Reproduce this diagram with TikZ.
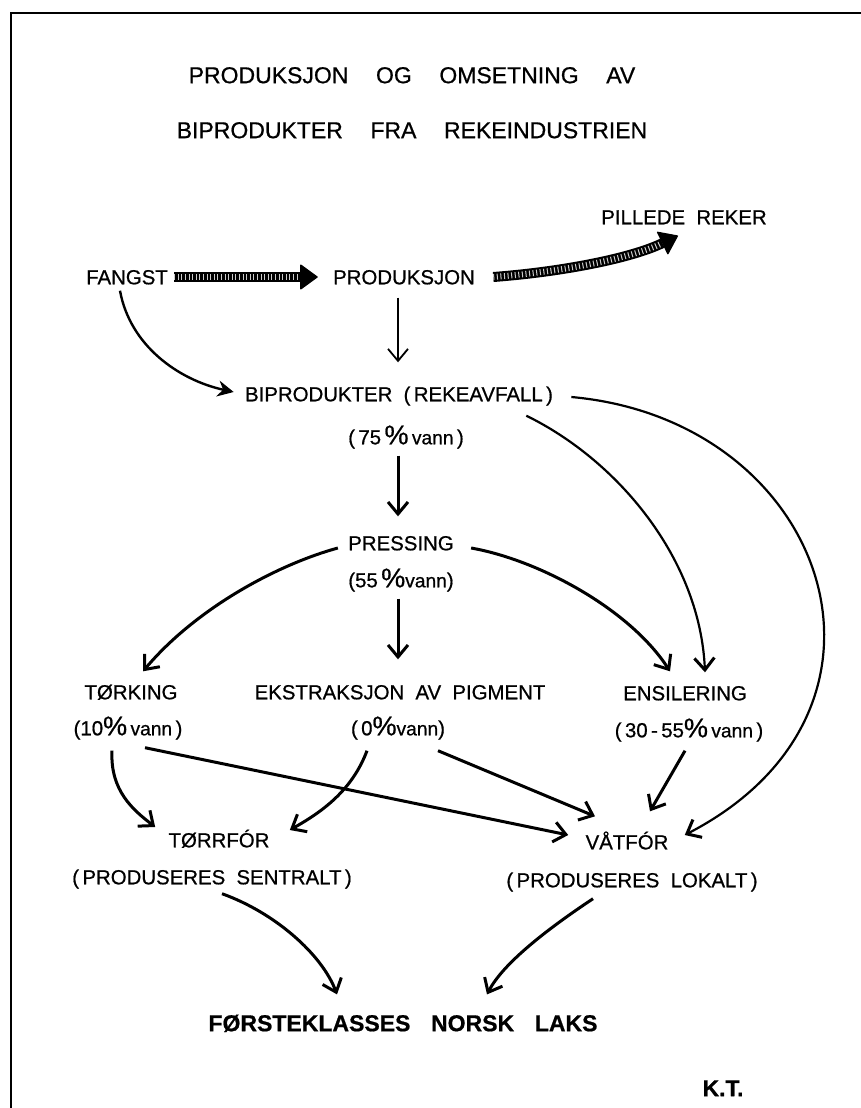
\documentclass[tikz,border=0pt]{standalone}
\usepackage{fontspec}
\setmainfont[FakeBold=0.7]{Liberation Sans}
\usetikzlibrary{arrows.meta,calc}
\newcommand{\pct}{{\fontsize{13.5}{13}\selectfont\%}}
\newcommand{\vann}{{\fontsize{9.6}{10}\selectfont vann}}
\newcommand{\wg}{\hspace{0.55em}}
\newcommand{\tg}{\hspace{1.2em}}
\begin{document}
\begin{tikzpicture}[x=0.5pt,y=-0.5pt,
  lbl/.style={inner sep=0pt, text height=7.3pt, text depth=0pt, font=\fontsize{10.2}{12}\selectfont},
  ttl/.style={inner sep=0pt, text height=8.2pt, text depth=0pt, font=\fontsize{11.5}{13}\selectfont},
  big/.style={inner sep=0pt, text height=8.2pt, text depth=0pt, font=\fontsize{11.5}{13}\selectfont\bfseries},
  kts/.style={inner sep=0pt, text height=8.2pt, text depth=0pt, font=\fontsize{11.5}{13}\selectfont\bfseries},
  arr/.style={line width=1.5pt, -{Straight Barb[length=6pt,width=10pt]}},
  arrT/.style={line width=1.1pt, -{Straight Barb[length=6pt,width=10pt,line width=1.5pt]}},
  arrS/.style={line width=1.2pt, -{Stealth[length=8pt,width=8pt]}},
  hb/.style={line width=5pt, black, -{Triangle[length=9pt,width=13pt,round,line width=0.6pt]}},
  ho/.style={line width=3pt, white!80!black, dash pattern=on 0.5pt off 1.3pt, shorten >=9pt}
]
\fill[white] (0,0) rectangle (861,1108);
\useasboundingbox (0,0) rectangle (861,1108);
\draw[line width=1pt] (11,1108) -- (11,13) -- (861,13);

\node[ttl] (t1) at (412,75) {PRODUKSJON\tg OG\tg OMSETNING\tg AV};
\node[ttl] (t2) at (412,130) {BIPRODUKTER\tg FRA\tg REKEINDUSTRIEN};
\node[lbl] (fangst) at (127,277) {FANGST};
\node[lbl] (prod) at (404,277) {PRODUKSJON};
\node[lbl] (pill) at (684,217) {PILLEDE\wg REKER};
\node[lbl] (bipr) at (399,394) {BIPRODUKTER\wg(\,REKEAVFALL\,)};
\node[lbl] (bipr2) at (406,437) {(\,75\,\pct\,\vann\,)};
\node[lbl] (press) at (401,543) {PRESSING};
\node[lbl] (press2) at (401,580) {(55\,\pct\vann)};
\node[lbl] (tork) at (131,692) {TØRKING};
\node[lbl] (tork2) at (128,728) {(10\pct\,\vann\,)};
\node[lbl] (ekstr) at (400,692) {EKSTRAKSJON\wg AV\wg PIGMENT};
\node[lbl] (ekstr2) at (398,728) {(\,0\pct\vann)};
\node[lbl] (ensil) at (685,693) {ENSILERING};
\node[lbl] (ensil2) at (689,730) {(\,30\,-\,55\pct\,\vann\,)};
\node[lbl] (torr) at (219,840) {TØRRFÓR};
\node[lbl] (torr2) at (212,877) {(\,PRODUSERES\wg SENTRALT\,)};
\node[lbl] (vat) at (627,842) {VÅTFÓR};
\node[lbl] (vat2) at (632,880) {(\,PRODUSERES\wg LOKALT\,)};
\node[big] (laks) at (403,1023) {FØRSTEKLASSES\hspace{0.9em}NORSK\hspace{0.9em}LAKS};
\node[kts] (kt) at (723,1088) {K.T.};

% hatched arrows
\draw[hb, shorten <=3pt, shorten >=7.5pt] (fangst.east) -- (prod.west);
\draw[ho, shorten <=3pt, shorten >=16.5pt] (fangst.east) -- (prod.west);
\draw[hb] ($(prod.east)+(18,0)$) .. controls +(67,-5) and +(-48,23) .. ($(pill.south)+(-6,11)$);
\draw[ho] ($(prod.east)+(18,0)$) .. controls +(67,-5) and +(-48,23) .. ($(pill.south)+(-6,11)$);

% arrows
\draw[arr, line width=0.9pt] ($(prod.south)+(-6,13)$) -- ($(bipr.north)+(-1,-24)$);
\draw[arrS] ($(fangst.south)+(-7,6)$) .. controls +(10,55) and +(-55,-12) .. ($(bipr.west)+(-11,-2)$);
\draw[arr] ($(bipr2.south)+(-8,11)$) -- ($(press.north)+(-3,-19)$);
\draw[arrT] ($(bipr.east)+(18,3)$) .. controls +(257,23) and +(242,-125) .. ($(vat.east)+(16,-7)$);
\draw[arrT] ($(bipr.south east)+(-27,14)$) .. controls +(92,45) and +(-5,-113) .. ($(ensil.north)+(20,-13)$);
\draw[arr] ($(press.west)+(-10,5)$) .. controls +(-62,17) and +(52,-62) .. ($(tork.north)+(12,-13)$);
\draw[arr] ($(press.east)+(17,5)$) .. controls +(68,12) and +(-40,-62) .. ($(ensil.north)+(-15,-14)$);
\draw[arr] ($(press2.south)+(-3,11)$) -- ($(ekstr.north)+(-2,-25)$);
\draw[arr] ($(tork2.south)+(-16,15)$) .. controls +(-2,40) and +(-22,-17) .. ($(torr.west)+(-13,-13)$);
\draw[arr] ($(ekstr2.south)+(-31,15)$) .. controls +(-15,40) and +(32,-18) .. ($(torr.east)+(20,-10)$);
\draw[arr] ($(tork2.south)+(17,12)$) -- ($(vat.west)+(-17,-7)$);
\draw[arr] ($(ekstr2.south)+(40,15)$) -- ($(vat.north)+(-32,-18)$);
\draw[arr] ($(ensil2.south)+(-4,13)$) -- ($(vat.north)+(23,-23)$);
\draw[arr] ($(torr2.south)+(10,9)$) .. controls +(53,19) and +(-15,-40) .. ($(laks.north)+(-66,-20)$);
\draw[arr] ($(vat2.south)+(-39,11)$) .. controls +(-33,22) and +(18,-35) .. ($(laks.north)+(84,-20)$);
\end{tikzpicture}
\end{document}
